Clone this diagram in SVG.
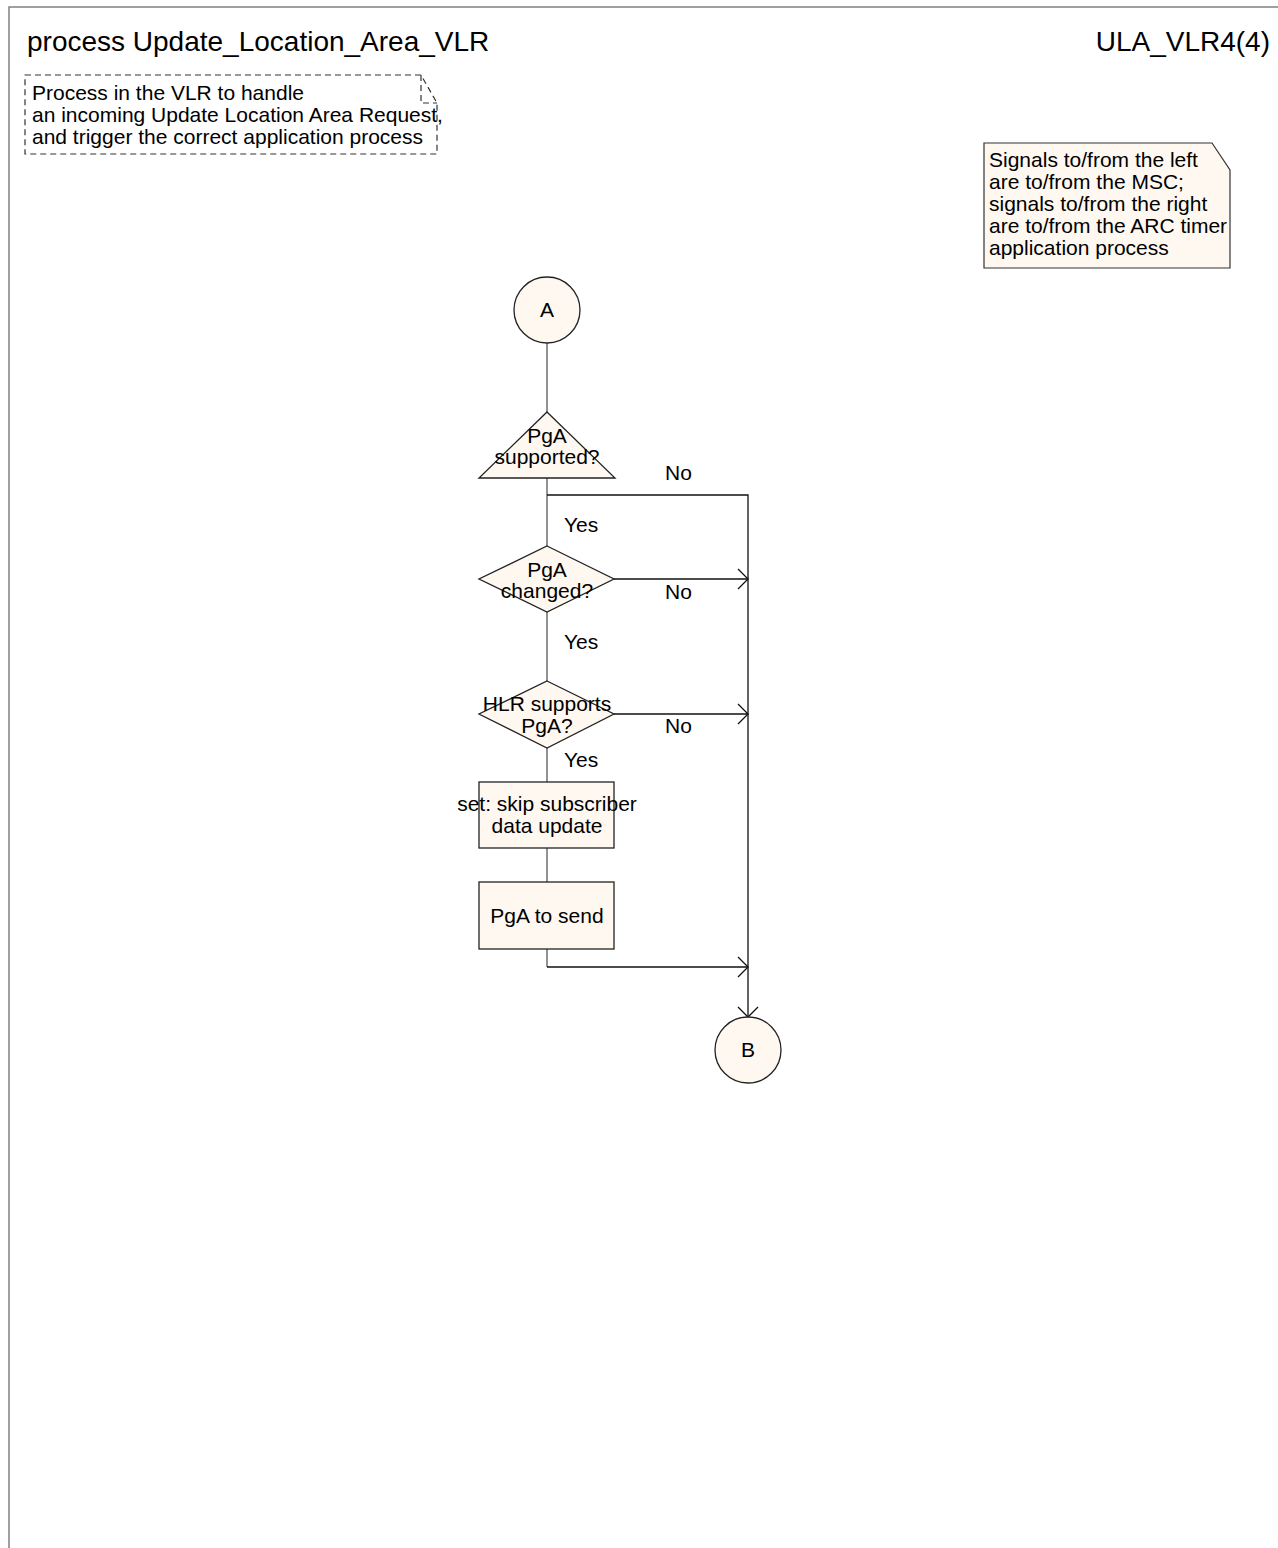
<svg xmlns="http://www.w3.org/2000/svg" width="1278" height="1548" viewBox="0 0 1278 1548">
<style>
text{font-family:"Liberation Sans",Arial,sans-serif;fill:#000}
.t{font-size:21px}
.title{font-size:28px}
.c{text-anchor:middle}
.node{fill:#FFF8F0;stroke:#222;stroke-width:1.3}
.g{stroke:#777;stroke-width:1.6;fill:none}
.k{stroke:#111;stroke-width:1.3;fill:none}
</style>
<defs>
<marker id="arr" markerWidth="14" markerHeight="24" refX="11" refY="11" orient="auto" markerUnits="userSpaceOnUse">
<path d="M1,1 L11,11 L1,21" fill="none" stroke="#111" stroke-width="1.3"/>
</marker>
</defs>
<rect width="1278" height="1548" fill="#fff"/>
<g id="frame">
<path d="M9,1548 V7 H1278" fill="none" stroke="#808080" stroke-width="1.5"/>
<text class="title" x="27" y="51">process Update_Location_Area_VLR</text>
<text class="title" x="1270" y="51" text-anchor="end">ULA_VLR4(4)</text>
</g>
<g id="note1">
<path d="M25,75 H421 L437,103 V154 H25 Z" fill="none" stroke="#333" stroke-width="1.2" stroke-dasharray="6,4"/>
<path d="M421,75 V103 H437" fill="none" stroke="#333" stroke-width="1.2" stroke-dasharray="6,4"/>
<text class="t" x="32" y="100">Process in the VLR to handle</text>
<text class="t" x="32" y="122">an incoming Update Location Area Request,</text>
<text class="t" x="32" y="144">and trigger the correct application process</text>
</g>
<g id="note2">
<path d="M984,143 H1212 L1230,170 V268 H984 Z" fill="#FFF8F0" stroke="#333" stroke-width="1.2"/>
<path d="M1212,143 V170 H1230" fill="none" stroke="#333" stroke-width="1.2" display="none"/>
<text class="t" x="989" y="167">Signals to/from the left</text>
<text class="t" x="989" y="189">are to/from the MSC;</text>
<text class="t" x="989" y="211">signals to/from the right</text>
<text class="t" x="989" y="233">are to/from the ARC timer</text>
<text class="t" x="989" y="255">application process</text>
</g>
<g id="connectors">
<path class="g" d="M547,343 V412"/>
<path class="g" d="M547,478 V546"/>
<path class="k" d="M547,495 H748 V1017" marker-end="url(#arr)"/>
<path class="k" d="M614,579 H748" marker-end="url(#arr)"/>
<path class="g" d="M547,612 V681"/>
<path class="k" d="M614,714 H748" marker-end="url(#arr)"/>
<path class="g" d="M547,748 V782"/>
<path class="g" d="M547,848 V882"/>
<path class="g" d="M547,949 V967"/>
<path class="k" d="M547,967 H748" marker-end="url(#arr)"/>
<text class="t" x="665" y="480">No</text>
<text class="t" x="564" y="532">Yes</text>
<text class="t" x="665" y="599">No</text>
<text class="t" x="564" y="649">Yes</text>
<text class="t" x="665" y="733">No</text>
<text class="t" x="564" y="767">Yes</text>
</g>
<g id="A">
<circle class="node" cx="547" cy="310" r="33"/>
<text class="t c" x="547" y="317">A</text>
</g>
<g id="d1">
<path class="node" d="M547,412 L615,478 H479 Z"/>
<text class="t c" x="547" y="443">PgA</text>
<text class="t c" x="547" y="464">supported?</text>
</g>
<g id="d2">
<path class="node" d="M547,546 L614,579 L547,612 L479,579 Z"/>
<text class="t c" x="547" y="577">PgA</text>
<text class="t c" x="547" y="598">changed?</text>
</g>
<g id="d3">
<path class="node" d="M547,681 L614,714 L547,748 L479,714 Z"/>
<text class="t c" x="547" y="711">HLR supports</text>
<text class="t c" x="547" y="733">PgA?</text>
</g>
<g id="t1">
<rect class="node" x="479" y="782" width="135" height="66"/>
<text class="t c" x="547" y="811">set: skip subscriber</text>
<text class="t c" x="547" y="833">data update</text>
</g>
<g id="t2">
<rect class="node" x="479" y="882" width="135" height="67"/>
<text class="t c" x="547" y="923">PgA to send</text>
</g>
<g id="B">
<circle class="node" cx="748" cy="1050" r="33"/>
<text class="t c" x="748" y="1057">B</text>
</g>
</svg>
